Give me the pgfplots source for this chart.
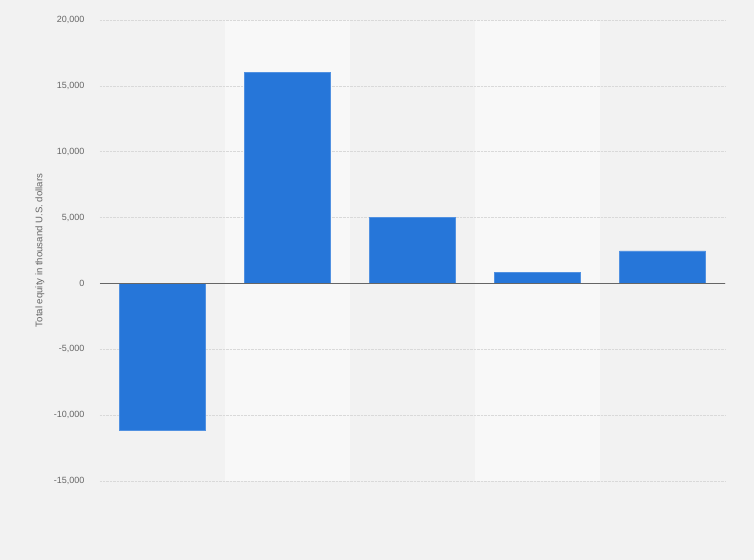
\documentclass[border=0pt]{standalone}
\usepackage{fontspec}
\setmainfont{Liberation Sans}
\usepackage{pgfplots}
\pgfplotsset{compat=1.18}
\definecolor{bg}{HTML}{F2F2F2}
\definecolor{band}{HTML}{F8F8F8}
\definecolor{barblue}{HTML}{2676D9}
\definecolor{txt}{HTML}{666666}
\begin{document}
\begin{tikzpicture}
% page background and the two lighter column bands
\fill[bg] (-100bp,-79bp) rectangle (654bp,481bp);
\fill[band] (125bp,0bp) rectangle (250bp,461bp);
\fill[band] (375bp,0bp) rectangle (500bp,461bp);
\begin{axis}[
  at={(0,0)}, anchor=south west,
  width=625bp, height=461bp,
  scale only axis,
  xmin=-0.5, xmax=4.5,
  ymin=-15000, ymax=20000,
  axis line style={draw=none},
  xtick=\empty,
  scaled y ticks=false,
  ytick={-15000,-10000,-5000,0,5000,10000,15000,20000},
  yticklabels={{-15,000},{-10,000},{-5,000},{0},{5,000},{10,000},{15,000},{20,000}},
  major tick length=0pt,
  ymajorgrids,
  grid style={densely dotted, color=black!15, line width=0.6bp},
  yticklabel style={font=\fontsize{9bp}{10bp}\selectfont, text=txt, anchor=east, xshift=-12bp},
  ylabel={Total equity in thousand U.S. dollars},
  ylabel style={font=\fontsize{9.6bp}{11bp}\selectfont, text=txt, at={(axis description cs:-0.096,0.5)}, anchor=center},
  ybar, bar width=86bp,
]
\addplot[fill=barblue, draw=barblue!80!white, line width=0.5bp] coordinates {
  (0,-11130) (1,16020) (2,5020) (3,835) (4,2475)
};
\draw[black!60, line width=1bp] (axis cs:-0.5,0) -- (axis cs:4.5,0);
\end{axis}
\end{tikzpicture}
\end{document}
